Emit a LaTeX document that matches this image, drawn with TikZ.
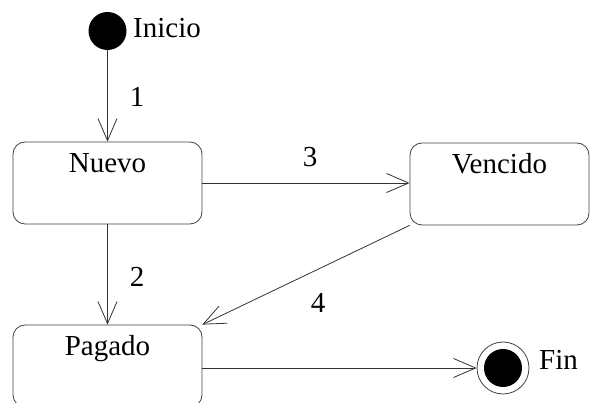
\documentclass[tikz,border=0pt]{standalone}
\usepackage{fontspec}
\setmainfont{Liberation Serif}
\usetikzlibrary{arrows.meta}

\begin{document}
\begin{tikzpicture}[
  x=1pt, y=-1pt,
  font=\fontsize{29}{34}\selectfont,
  state/.style={rectangle, draw=black!75, line width=0.8pt, rounded corners=12pt,
    minimum width=189pt, inner sep=0pt, text height=31pt, text depth=51pt},
  start/.style={circle, fill=black, minimum size=38pt, inner sep=0pt},
  final/.style={circle, draw=black!75, line width=0.8pt, minimum size=52pt, inner sep=0pt},
  dot/.style={circle, fill=black, minimum size=38pt, inner sep=0pt},
  txt/.style={anchor=base, inner sep=0pt},
  arr/.style={-{Straight Barb[length=22pt, width=19pt]}, draw=black!80, line width=0.8pt}
]
  \useasboundingbox (0,0) rectangle (590,403);
  \clip (0,0) rectangle (590,403);

  \node[start] (ini) at (107.5,31) {};
  \node[txt, anchor=base west] (iniTxt) at (133,38) {Inicio};
  \node[state] (nuevo) at (107.5,183) {Nuevo};
  \node[state, minimum width=179pt] (vencido) at (499.5,184) {Vencido};
  \node[state] (pagado) at (107.5,366) {Pagado};
  \node[final] (fin) at (503,368) {};
  \node[dot] (finDot) at (503,368) {};
  \node[txt, anchor=base west] (finTxt) at (539,370) {Fin};

  \node[txt] (t1) at (137,107) {1};
  \node[txt] (t2) at (137,287) {2};
  \node[txt] (t3) at (310,167) {3};
  \node[txt] (t4) at (318,313) {4};

  \draw[arr] (ini) -- (nuevo);
  \draw[arr] (nuevo) -- (pagado);
  \draw[arr] (nuevo.east) -- (nuevo.east -| vencido.west);
  \draw[arr] (vencido.south west) -- (pagado.north east);
  \draw[arr] (pagado.east |- fin) -- (fin);
\end{tikzpicture}
\end{document}
